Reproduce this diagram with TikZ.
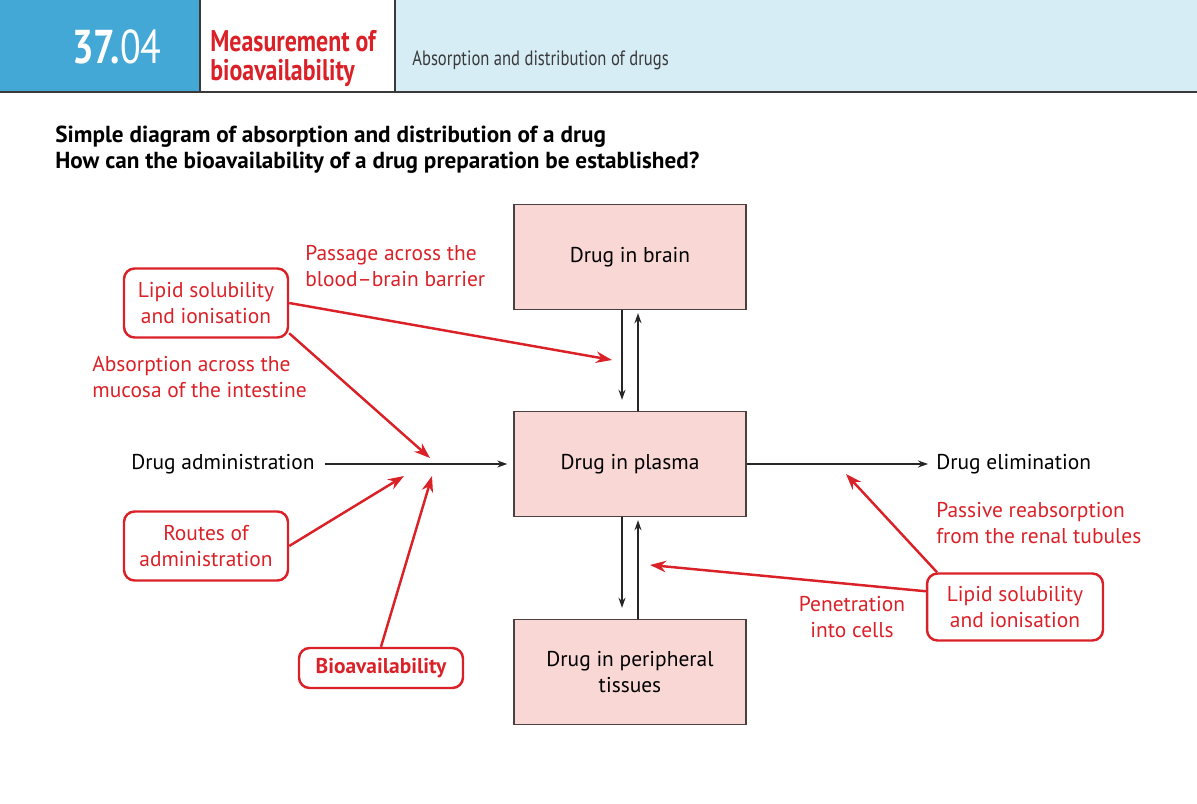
\documentclass[tikz,border=0pt]{standalone}
\usepackage{fontspec}
\setmainfont{PT Sans}
\newfontfamily\condfont[FakeStretch=0.8]{PT Sans}
\usetikzlibrary{arrows.meta, positioning}
\definecolor{hdrblue}{HTML}{43A8D6}
\definecolor{hdrpale}{HTML}{D6EDF6}
\definecolor{hdrline}{HTML}{3A3A3A}
\definecolor{bvred}{HTML}{DA2128}
\definecolor{boxpink}{HTML}{F9D7D5}
\definecolor{boxline}{HTML}{4A4040}
\tikzset{
  txt/.style={font=\fontsize{12.2}{15.3}\selectfont, inner sep=0pt},
  comp/.style={rectangle, draw=boxline, fill=boxpink, line width=0.8pt, align=center,
               txt, minimum width=4.64cm, minimum height=2.1cm},
  redtxt/.style={txt, text=bvred, align=left},
  redbox/.style={rectangle, rounded corners=6pt, draw=bvred, line width=1.4pt,
                 text=bvred, align=center, txt, minimum width=3.28cm, minimum height=1.38cm},
  flow/.style={-{Stealth[length=2mm, width=1.4mm]}, line width=0.8pt, draw=black!85},
  infl/.style={-{Stealth[length=3.2mm, width=2.3mm]}, line width=1.4pt, draw=bvred},
}

\begin{document}
\begin{tikzpicture}[x=0.02cm, y=-0.02cm]
  \useasboundingbox (0,0) rectangle (1197,804);
  % header strip
  \fill[hdrblue] (0,0) rectangle (200,92);
  \fill[white] (200,0) rectangle (395,92);
  \fill[hdrpale] (395,0) rectangle (1197,92);
  \draw[hdrline, line width=1.1pt] (200,0) -- (200,92) (395,0) -- (395,92);
  \draw[hdrline, line width=1.6pt] (0,92) -- (1197,92);
  \node[text=white, inner sep=0pt, font=\condfont\fontsize{27}{27}\selectfont] (secnum) at (117,47) {\textbf{37.}04};
  \node[text=bvred, inner sep=0pt, anchor=west, align=left,
        font=\condfont\bfseries\fontsize{17}{16.5}\selectfont] (sectitle) at (210,58) {Measurement of\\bioavailability};
  \node[text=hdrline, inner sep=0pt, anchor=west, font=\condfont\fontsize{11.8}{12}\selectfont] (chapter) at (412,60)
    {Absorption and distribution of drugs};
  \node[txt, anchor=west, align=left, font=\bfseries\fontsize{13.2}{14.8}\selectfont] (heading) at (55,150)
    {Simple diagram of absorption and distribution of a drug\\How can the bioavailability of a drug preparation be established?};

  % compartments
  \node[comp] (brain) at (630,257) {Drug in brain};
  \node[comp] (plasma) at (630,464) {Drug in plasma};
  \node[comp] (tissue) at (630,672) {Drug in peripheral\\tissues};
  \node[txt, anchor=east] (admin) at (315,464) {Drug administration};
  \node[txt, anchor=west] (elim) at (936,464) {Drug elimination};

  \draw[flow, shorten >=0.22cm] ([xshift=-0.16cm]brain.south) -- ([xshift=-0.16cm]plasma.north);
  \draw[flow, shorten >=0.06cm] ([xshift=0.16cm]plasma.north) -- ([xshift=0.16cm]brain.south);
  \draw[flow, shorten >=0.22cm] ([xshift=-0.16cm]plasma.south) -- ([xshift=-0.16cm]tissue.north);
  \draw[flow, shorten >=0.06cm] ([xshift=0.16cm]tissue.north) -- ([xshift=0.16cm]plasma.south);
  \draw[flow, shorten <=0.2cm, shorten >=0.12cm] (admin.east) -- (plasma.west);
  \draw[flow, shorten >=0.16cm] (plasma.east) -- (elim.west);

  % factors
  \node[redbox] (lipidA) at (206,303) {Lipid solubility\\and ionisation};
  \node[redbox] (routes) at (206,546) {Routes of\\administration};
  \node[redbox, minimum height=0.8cm, font=\bfseries\fontsize{12.2}{15.3}\selectfont] (bioav) at (381,668) {Bioavailability};
  \node[redbox, minimum width=3.52cm, minimum height=1.34cm] (lipidB) at (1015,607) {Lipid solubility\\and ionisation};

  \node[redtxt, anchor=west] (bbb) at (305,266) {Passage across the\\blood--brain barrier};
  \node[redtxt, anchor=west] (mucosa) at (92,377) {Absorption across the\\mucosa of the intestine};
  \node[redtxt, anchor=west] (renal) at (936,523) {Passive reabsorption\\from the renal tubules};
  \node[redtxt, align=center] (cells) at (852,617) {Penetration\\into cells};

  \coordinate (toBrain) at (612,360);
  \coordinate (toGut) at (430,458);
  \coordinate (fromRoute) at (404,476);
  \coordinate (fromBio) at (432,476);
  \coordinate (toKidney) at (846,474);
  \coordinate (toCells) at (650,565);
  \draw[infl] (lipidA.east) -- (toBrain);
  \draw[infl] (lipidA.-20) -- (toGut);
  \draw[infl] (routes.east) -- (fromRoute);
  \draw[infl] (bioav.north) -- (fromBio);
  \draw[infl] (lipidB.156) -- (toKidney);
  \draw[infl] (lipidB.170) -- (toCells);
\end{tikzpicture}
\end{document}
